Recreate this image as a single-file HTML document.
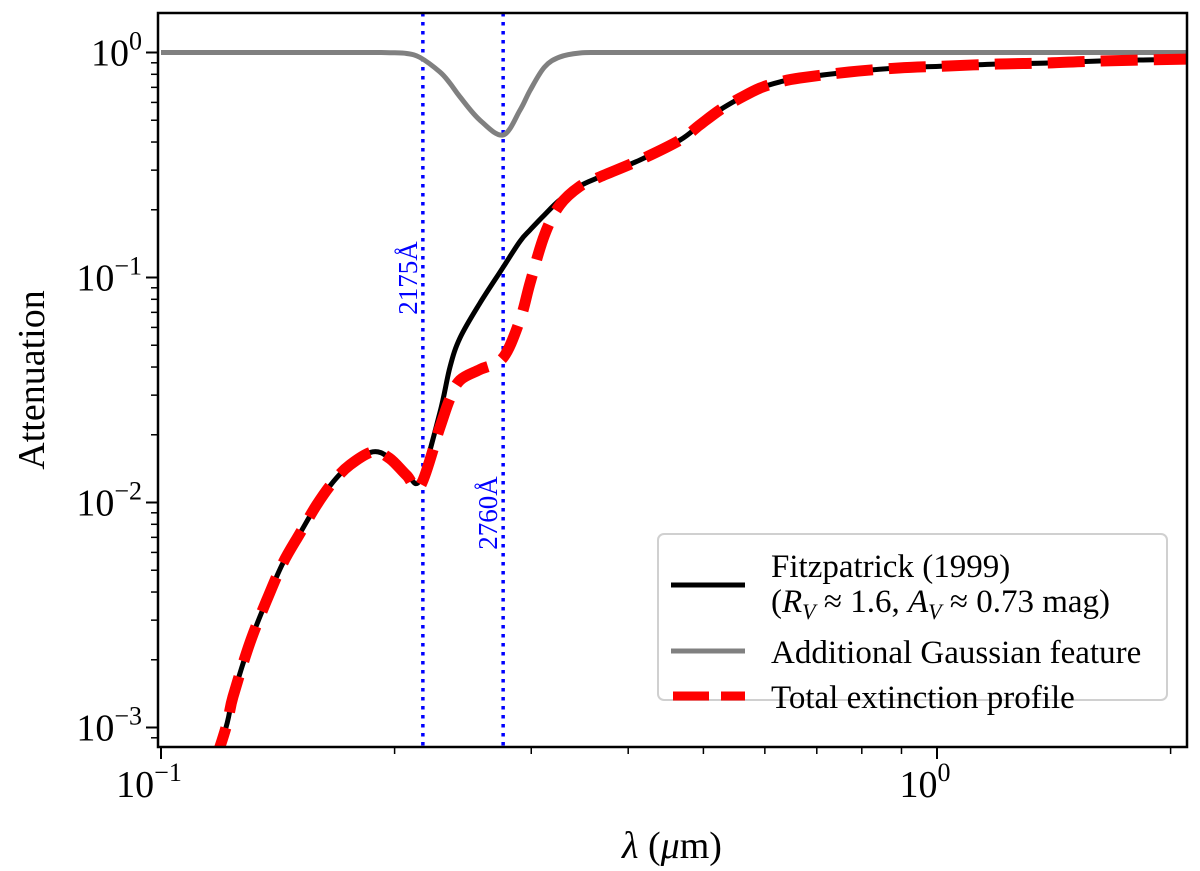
<!DOCTYPE html>
<html><head><meta charset="utf-8"><style>
html,body{margin:0;padding:0;background:#fff;}
svg{display:block;font-family:"Liberation Serif","DejaVu Serif",serif;}
</style></head><body>
<svg id="chart" width="1200" height="871" viewBox="0 0 1200 871">
<g id="plot"></g>
</svg>
<script>
const lambdas=[0.1,0.1191,0.1238,0.1302,0.1369,0.1436,0.1511,0.1587,0.1665,0.1752,0.1875,0.1971,0.2073,0.2157,0.2287,0.2357,0.2429,0.2577,0.2760,0.2902,0.2991,0.3121,0.3265,0.3465,0.3678,0.4142,0.4664,0.4945,0.525,0.5575,0.5913,0.6275,0.6655,0.7705,0.8925,1.034,1.2,1.39,1.62,2.1];
const fitzValues=[1.5e-4,8.2e-4,1.37e-3,2.38e-3,3.69e-3,5.39e-3,7.31e-3,9.75e-3,0.0123,0.0147,0.0168,0.0158,0.0135,0.0126,0.025,0.040,0.054,0.077,0.111,0.145,0.163,0.19,0.221,0.255,0.28,0.333,0.408,0.476,0.555,0.627,0.695,0.74,0.77,0.819,0.853,0.871,0.889,0.898,0.917,0.935];
const gaussValues=[1,1,1,1,1,1,1,1,1,1,1,0.998,0.99,0.95,0.82,0.73,0.634,0.50,0.43,0.555,0.68,0.862,0.955,0.995,1,1,1,1,1,1,1,1,1,1,1,1,1,1,1,1];
const totalValues=[1.5e-4,8.2e-4,1.37e-3,2.38e-3,3.69e-3,5.39e-3,7.31e-3,9.75e-3,0.0123,0.0147,0.0168,0.0157,0.0132,0.0118,0.0215,0.029,0.035,0.039,0.044,0.065,0.095,0.155,0.21,0.254,0.28,0.333,0.408,0.476,0.555,0.627,0.695,0.74,0.77,0.819,0.853,0.871,0.889,0.898,0.917,0.935];
const featureLines=[0.2175,0.2760];
const featureLabels=["2175\u00C5","2760\u00C5"];
const xMajorTicks=[0.1,1];
const xMajorExp=["\u22121","0"];
const yMajorTicks=[1,0.1,0.01,0.001];
const yMajorExp=["0","\u22121","\u22122","\u22123"];

const X0=161,XD=776,Y0=52.5,YD=225;
const L=158,R=1187,T=13,B=747;
function xs(l){return X0+XD*Math.log10(l/0.1);}
function ys(v){return Y0-YD*Math.log10(v);}
const NS="http://www.w3.org/2000/svg";
const g=document.getElementById('plot');
function mk(tag,attrs,parent){const e=document.createElementNS(NS,tag);for(const k in attrs)e.setAttribute(k,attrs[k]);(parent||g).appendChild(e);return e;}

const defs=mk('defs',{});
const cp=mk('clipPath',{id:'clip'},defs);
mk('rect',{x:L,y:T,width:R-L,height:B-T},cp);
const cg=mk('g',{'clip-path':'url(#clip)'});

featureLines.forEach((l,i)=>{
  const ln=mk('line',{x1:xs(l),x2:xs(l),y1:T,y2:B,stroke:'#0000ff','stroke-width':3.5,'stroke-dasharray':'3.5 5.5'},cg);
  
  
});
function smooth(vals){
  const p=lambdas.map((l,i)=>[xs(l),ys(vals[i])]);
  let d='M'+p[0][0]+','+p[0][1];
  for(let i=0;i<p.length-1;i++){
    const p0=p[Math.max(0,i-1)],p1=p[i],p2=p[i+1],p3=p[Math.min(p.length-1,i+2)];
    const c1=[p1[0]+(p2[0]-p0[0])/6,p1[1]+(p2[1]-p0[1])/6];
    const c2=[p2[0]-(p3[0]-p1[0])/6,p2[1]-(p3[1]-p1[1])/6];
    d+=` C${c1[0].toFixed(1)},${c1[1].toFixed(1)} ${c2[0].toFixed(1)},${c2[1].toFixed(1)} ${p2[0].toFixed(1)},${p2[1].toFixed(1)}`;
  }
  return d;
}
const gl=mk('path',{d:smooth(gaussValues),fill:'none',stroke:'#808080','stroke-width':5},cg);


const fl=mk('path',{d:smooth(fitzValues),fill:'none',stroke:'#000','stroke-width':5},cg);


const tl=mk('path',{d:smooth(totalValues),fill:'none',stroke:'#ff0000','stroke-width':11,'stroke-dasharray':'37 16'},cg);



featureLabels.forEach((t,i)=>{
  const x=xs(featureLines[i])-6, y=i===0?278:513;
  const tx=mk('text',{x:x,y:y,transform:`rotate(-90 ${x} ${y})`,'text-anchor':'middle',fill:'#0000ff','font-size':27});
  tx.textContent=t;
  
  
});

const fr=mk('rect',{x:L,y:T,width:R-L,height:B-T,fill:'none',stroke:'#000','stroke-width':2.5});



xMajorTicks.forEach((t,i)=>{
  const x=xs(t);
  mk('line',{x1:x,x2:x,y1:B,y2:B+12,stroke:'#000','stroke-width':2});
  const tx=mk('text',{x:x-12,y:B+50,'text-anchor':'middle','font-size':38});
  tx.textContent='10';
  const sp=mk('tspan',{dy:-16,'font-size':26},tx);sp.textContent=xMajorExp[i];
  
  
});
for(let d=-1;d<=0;d++)for(let m=2;m<=9;m++){const v=m*Math.pow(10,d);const x=xs(v);if(x>L&&x<R)mk('line',{x1:x,x2:x,y1:B,y2:B+7,stroke:'#000','stroke-width':1.5});}
yMajorTicks.forEach((t,i)=>{
  const y=ys(t);
  mk('line',{x1:L-12,x2:L,y1:y,y2:y,stroke:'#000','stroke-width':2});
  const tx=mk('text',{x:L-16,y:y+13,'text-anchor':'end','font-size':38});
  tx.textContent='10';
  const sp=mk('tspan',{dy:-16,'font-size':26},tx);sp.textContent=yMajorExp[i];
  
  
});
for(let d=-4;d<=0;d++)for(let m=2;m<=9;m++){const v=m*Math.pow(10,d);const y=ys(v);if(y>T&&y<B)mk('line',{x1:L-7,x2:L,y1:y,y2:y,stroke:'#000','stroke-width':1.5});}
</script>
<svg style="position:absolute;left:0;top:0" width="1200" height="871" font-family="Liberation Serif, DejaVu Serif, serif">
<text x="44" y="380" transform="rotate(-90 44 380)" text-anchor="middle" font-size="38">Attenuation</text>
<text x="672" y="858" text-anchor="middle" font-size="38"><tspan font-style="italic">λ</tspan> (<tspan font-style="italic">μ</tspan>m)</text>
<g>
<rect x="658" y="534" width="509" height="166" rx="6" fill="#fff" fill-opacity="0.85" stroke="#d0d0d0" stroke-width="2"/>
<line x1="671" x2="745" y1="585" y2="585" stroke="#000" stroke-width="5"/>
<text x="771" y="577" font-size="33">Fitzpatrick (1999)</text>
<text x="771" y="612" font-size="33">(<tspan font-style="italic">R</tspan><tspan font-style="italic" font-size="22" dy="7">V</tspan><tspan dy="-7"> ≈ 1.6, </tspan><tspan font-style="italic">A</tspan><tspan font-style="italic" font-size="22" dy="7">V</tspan><tspan dy="-7"> ≈ 0.73 mag)</tspan></text>
<line x1="671" x2="745" y1="651" y2="651" stroke="#808080" stroke-width="5"/>
<text x="771" y="663" font-size="33">Additional Gaussian feature</text>
<line x1="673" x2="745" y1="696" y2="696" stroke="#ff0000" stroke-width="9" stroke-dasharray="36 12"/>
<text x="771" y="708" font-size="33">Total extinction profile</text>
</g>
</svg>
</body></html>
